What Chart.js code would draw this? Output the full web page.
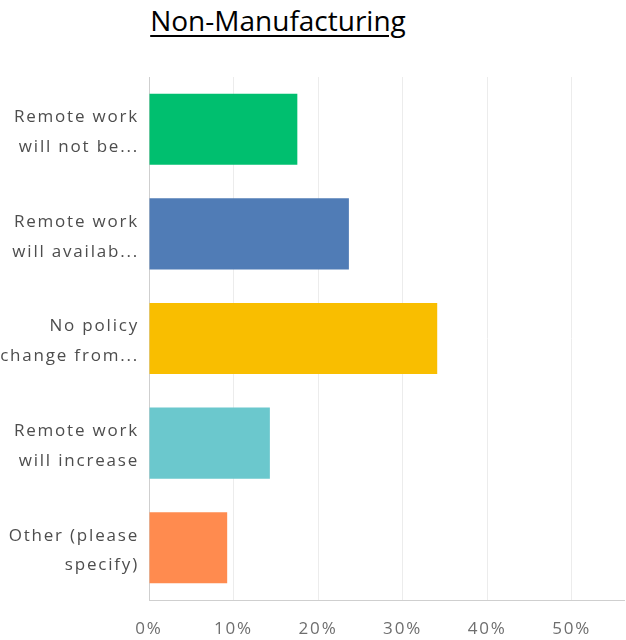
<!DOCTYPE html>
<html>
<head>
<meta charset="utf-8">
<script src="https://cdn.jsdelivr.net/npm/chart.js@4"></script>
<style>
    html, body { margin: 0; padding: 0; background: #fff; }
    .wrap { position: relative; width: 626px; height: 640px; }
    .title {
        position: absolute; left: 0; top: 1px; width: 556px;
        text-align: center;
        font-family: "Open Sans", sans-serif; font-size: 28px; color: #000;
        text-decoration: underline; text-decoration-thickness: 2px; text-underline-offset: 4px;
    }
    canvas { position: absolute; left: 0; top: 0; }
</style>
</head>
<body>
<div class="wrap">
    <div class="title">Non-Manufacturing</div>
    <canvas id="policyChart" width="626" height="640"></canvas>
</div>
<script>
const categories = [
    ['Remote work', 'will not be...'],
    ['Remote work', 'will availab...'],
    ['No policy', 'change from...'],
    ['Remote work', 'will increase'],
    ['Other (please', 'specify)']
];
const responses = [17.55, 23.65, 34.1, 14.3, 9.25];
const barColors = ['#00bf6f', '#507cb6', '#f9be00', '#6bc8cd', '#ff8b4f'];
const tickValues = [0, 10, 20, 30, 40, 50];

// a little extra tracking on the axis labels
const letterSpacingPlugin = {
    id: 'letterSpacing',
    beforeDraw(chart) { chart.ctx.letterSpacing = '1.8px'; },
    afterDraw(chart) { chart.ctx.letterSpacing = '0px'; }
};

const ctx = document.getElementById('policyChart').getContext('2d');

new Chart(ctx, {
    type: 'bar',
    data: {
        labels: categories,
        datasets: [{
            data: responses,
            backgroundColor: barColors,
            borderWidth: 0,
            barPercentage: 0.68,
            categoryPercentage: 1
        }]
    },
    options: {
        indexAxis: 'y',
        responsive: false,
        animation: false,
        layout: { padding: { top: 77, right: 2, bottom: 0, left: 0 } },
        plugins: {
            legend: { display: false },
            tooltip: { enabled: false }
        },
        scales: {
            x: {
                min: 0,
                max: 56.2,
                afterBuildTicks: (axis) => {
                    axis.ticks = tickValues.map(v => ({ value: v }));
                },
                afterFit: (axis) => { axis.height = 40; },
                border: { color: '#cfcfcf', width: 1 },
                grid: { color: '#ececec', drawTicks: false },
                ticks: {
                    padding: 19,
                    color: '#6e6e6e',
                    font: { family: 'Open Sans', size: 17 },
                    callback: (v) => v + '%'
                }
            },
            y: {
                afterFit: (axis) => { axis.width = 149; },
                border: { color: '#cfcfcf', width: 1 },
                grid: { display: false, drawTicks: false },
                ticks: {
                    padding: 10,
                    labelOffset: 3,
                    color: '#4d4d4d',
                    font: { family: 'Open Sans', size: 17, lineHeight: 1.75 }
                }
            }
        }
    },
    plugins: [letterSpacingPlugin]
});
</script>
</body>
</html>
